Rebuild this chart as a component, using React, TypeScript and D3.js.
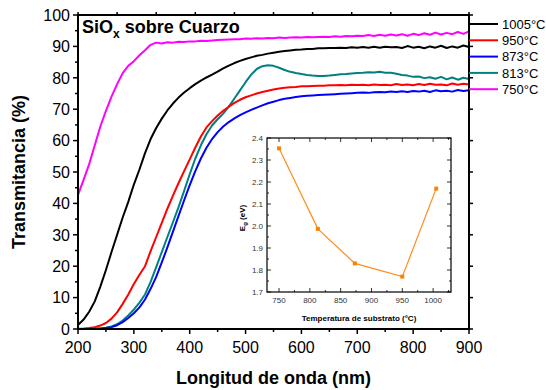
import React from "react";
import * as d3 from "d3";

const wavelengths = d3.range(200, 901, 10);

const t750 = [
  42.7, 47.5, 52.5, 58.5, 64.5, 69.5, 74.0, 78.0, 81.5, 83.8,
  85.3, 87.2, 88.8, 90.5, 91.2, 90.9, 91.3, 91.2, 91.5, 91.4,
  91.6, 91.6, 91.8, 91.7, 91.9, 92.0, 92.1, 92.2, 92.3, 92.3,
  92.5, 92.4, 92.6, 92.5, 92.7, 92.6, 92.8, 92.7, 92.8, 92.9,
  92.8, 93.0, 92.9, 93.0, 93.1, 93.0, 93.2, 93.1, 93.3, 93.2,
  93.4, 93.3, 93.6, 93.3, 93.7, 93.4, 93.8, 93.5, 93.9, 93.4,
  94.0, 93.6, 94.2, 93.7, 94.4, 93.8, 94.3, 93.9, 94.6, 94.0,
  94.8,
];
const t1005 = [
  1.3, 3.0, 5.5, 8.8, 13.5, 18.8, 24.5, 30.0, 35.5, 40.5,
  46.0, 50.8, 56.0, 60.5, 64.0, 67.0, 69.6, 71.8, 73.7, 75.3,
  76.7, 78.0, 79.1, 80.1, 81.0, 82.0, 83.0, 83.9, 84.7, 85.4,
  86.0, 86.5, 87.0, 87.3, 87.7, 88.0, 88.3, 88.5, 88.7, 88.9,
  89.0, 89.2, 89.2, 89.4, 89.4, 89.5, 89.5, 89.6, 89.5, 89.7,
  89.6, 89.8, 89.6, 89.9, 89.6, 89.9, 89.7, 89.8, 89.5, 90.1,
  89.6, 89.9, 89.4, 90.0, 89.6, 90.2, 89.5, 90.0, 89.6, 90.3,
  89.8,
];
const t950 = [
  0.0, 0.1, 0.3, 0.6, 1.1, 1.9, 3.3, 5.3, 8.0, 11.0,
  14.3, 17.3, 20.0, 24.8, 29.3, 33.8, 38.3, 42.5, 46.5, 50.3,
  54.0, 57.8, 61.3, 64.2, 66.2, 68.0, 69.5, 70.8, 72.0, 73.0,
  73.8, 74.4, 75.0, 75.5, 75.9, 76.3, 76.6, 76.8, 77.0, 77.1,
  77.3, 77.3, 77.4, 77.5, 77.5, 77.6, 77.6, 77.7, 77.6, 77.8,
  77.7, 77.8, 77.6, 77.9, 77.7, 77.8, 77.6, 78.0, 77.7, 77.9,
  77.6, 78.0, 77.7, 78.1, 77.8, 77.9, 77.6, 78.2, 77.8, 78.1,
  77.9,
];
const t873 = [
  0.0, 0.0, 0.0, 0.1, 0.1, 0.3, 0.6, 1.2, 2.2, 3.5,
  5.0, 6.9, 9.4, 12.8, 16.6, 21.2, 26.0, 31.0, 36.0, 41.0,
  45.8, 50.3, 54.3, 57.7, 60.5, 62.7, 64.5, 65.9, 67.1, 68.1,
  69.0, 69.8, 70.5, 71.2, 71.9, 72.4, 72.9, 73.3, 73.6, 73.9,
  74.1, 74.3, 74.4, 74.5, 74.6, 74.7, 74.8, 74.9, 75.0, 75.1,
  75.2, 75.3, 75.2, 75.4, 75.5, 75.4, 75.6, 75.5, 75.7, 75.5,
  75.8, 75.6, 75.9, 75.5, 76.0, 75.7, 75.9, 75.6, 76.1, 75.8,
  76.0,
];
const t813 = [
  0.1, 0.1, 0.1, 0.1, 0.2, 0.4, 0.8, 1.5, 2.7, 4.3,
  6.2, 8.4, 11.0, 15.0, 19.7, 24.5, 29.3, 34.0, 38.8, 44.0,
  49.3, 54.3, 58.5, 62.0, 64.8, 66.8, 68.6, 70.8, 73.4, 76.0,
  78.6, 81.0, 82.8, 83.7, 84.0, 83.8, 83.2, 82.5, 81.9, 81.5,
  81.2, 80.9, 80.7, 80.6, 80.6, 80.7, 80.9, 81.1, 81.2, 81.4,
  81.5, 81.6, 81.8, 81.7, 81.9, 81.6, 81.6, 81.3, 80.9, 80.7,
  80.3, 80.4, 79.9, 80.2, 79.7, 80.3, 79.5, 80.1, 79.4, 80.0,
  79.6,
];

const seriesLabels = ["1005°C", "950°C", "873°C", "813°C", "750°C"];
const seriesColors = ["#000000", "#ff0000", "#0000ff", "#008080", "#ff00ff"];
const seriesValues = [t1005, t950, t873, t813, t750];

const insetTemps = [750, 813, 873, 950, 1005];
const insetEg = [2.353, 1.987, 1.83, 1.77, 2.17];

const xTicks = [200, 300, 400, 500, 600, 700, 800, 900];
const yTicks = [0, 10, 20, 30, 40, 50, 60, 70, 80, 90, 100];
const insetXTicks = [750, 800, 850, 900, 950, 1000];
const insetYTicks = [1.7, 1.8, 1.9, 2.0, 2.1, 2.2, 2.3, 2.4];

const FONT = "'Liberation Sans', Arial, Helvetica, sans-serif";

export default function App() {
  const L = 78, R = 469, T = 15, B = 329;
  const x = d3.scaleLinear().domain([200, 900]).range([L, R]);
  const y = d3.scaleLinear().domain([0, 100]).range([B, T]);
  const line = d3
    .line<number>()
    .x((_, i) => x(wavelengths[i]))
    .y((d) => y(d));

  const iL = 267, iR = 451, iT = 138, iB = 292;
  const ix = d3.scaleLinear().domain([730.5, 1029]).range([iL, iR]);
  const iy = d3.scaleLinear().domain([1.7, 2.4]).range([iB, iT]);
  const iline = d3
    .line<number>()
    .x((d) => ix(d))
    .y((_, i) => iy(insetEg[i]));

  const xMinor = d3.range(250, 900, 100);
  const yMinor = d3.range(5, 100, 10);
  const topTicks = d3.range(0, 11).map((k) => L + ((R - L) * k) / 10);
  const iyMinor = d3.range(1.75, 2.4, 0.1);
  const ixMinor = [775, 825, 875, 925, 975, 1025];

  return (
    <svg
      width={546}
      height={390}
      style={{ position: "absolute", left: 0, top: 0, background: "#fff" }}
      fontFamily={FONT}
    >
      <rect x={0} y={0} width={546} height={390} fill="#fff" />
      {/* curves */}
      <g fill="none" strokeWidth={2} strokeLinejoin="round">
        {seriesValues
          .map((vals, i) => ({ vals, i }))
          .reverse()
          .map(({ vals, i }) => (
            <path key={i} d={line(vals) || ""} stroke={seriesColors[i]} />
          ))}
      </g>

      {/* main axes frame */}
      <rect x={L} y={T} width={R - L} height={B - T} fill="none" stroke="#000" strokeWidth={2} />
      <g stroke="#000" strokeWidth={1.5}>
        {xTicks.map((v) => (
          <line key={"xt" + v} x1={x(v)} x2={x(v)} y1={B} y2={B + 5} />
        ))}
        {xMinor.map((v) => (
          <line key={"xm" + v} x1={x(v)} x2={x(v)} y1={B} y2={B + 3} />
        ))}
        {yTicks.map((v) => (
          <line key={"yt" + v} x1={L} x2={L - 5} y1={y(v)} y2={y(v)} />
        ))}
        {yMinor.map((v) => (
          <line key={"ym" + v} x1={L} x2={L - 3} y1={y(v)} y2={y(v)} />
        ))}
        {topTicks.map((px, k) => (
          <line key={"tt" + k} x1={px} x2={px} y1={T} y2={T - 3} />
        ))}
        {yTicks.map((v) => (
          <line key={"rt" + v} x1={R} x2={R + 4} y1={y(v)} y2={y(v)} />
        ))}
      </g>
      <g fontSize={16} fill="#000">
        {xTicks.map((v) => (
          <text key={"xl" + v} x={x(v)} y={353} textAnchor="middle">
            {v}
          </text>
        ))}
        {yTicks.map((v) => (
          <text key={"yl" + v} x={70} y={y(v)} dy="0.36em" textAnchor="end">
            {v}
          </text>
        ))}
      </g>
      <text x={(L + R) / 2} y={384} textAnchor="middle" fontSize={18} fontWeight="bold">
        Longitud de onda (nm)
      </text>
      <text
        transform={`translate(25,${(T + B) / 2}) rotate(-90)`}
        textAnchor="middle"
        fontSize={18}
        fontWeight="bold"
      >
        Transmitancia (%)
      </text>
      <text x={82} y={33} fontSize={18} fontWeight="bold">
        SiO
        <tspan dy={5} fontSize={12}>
          x
        </tspan>
        <tspan dy={-5}> sobre Cuarzo</tspan>
      </text>

      {/* legend */}
      {seriesLabels.map((lab, i) => {
        const ly = 24 + i * 16.3;
        return (
          <g key={lab}>
            <line x1={469} x2={498} y1={ly} y2={ly} stroke={seriesColors[i]} strokeWidth={2} />
            <text x={502} y={ly} dy="0.36em" fontSize={13}>
              {lab}
            </text>
          </g>
        );
      })}

      {/* inset */}
      <rect x={iL} y={iT} width={iR - iL} height={iB - iT} fill="#fff" stroke="#000" strokeWidth={1.2} />
      <g stroke="#000" strokeWidth={0.8}>
        {insetYTicks.map((v) => (
          <g key={"iyt" + v}>
            <line x1={iL} x2={iL + 4} y1={iy(v)} y2={iy(v)} />
            <line x1={iR} x2={iR - 4} y1={iy(v)} y2={iy(v)} />
          </g>
        ))}
        {iyMinor.map((v) => (
          <g key={"iym" + v}>
            <line x1={iL} x2={iL + 2} y1={iy(v)} y2={iy(v)} />
            <line x1={iR} x2={iR - 2} y1={iy(v)} y2={iy(v)} />
          </g>
        ))}
        {insetXTicks.map((v) => (
          <g key={"ixt" + v}>
            <line x1={ix(v)} x2={ix(v)} y1={iB} y2={iB - 4} />
            <line x1={ix(v)} x2={ix(v)} y1={iT} y2={iT + 4} />
          </g>
        ))}
        {ixMinor.map((v) => (
          <g key={"ixm" + v}>
            <line x1={ix(v)} x2={ix(v)} y1={iB} y2={iB - 2} />
            <line x1={ix(v)} x2={ix(v)} y1={iT} y2={iT + 2} />
          </g>
        ))}
      </g>
      <g fontSize={8} fill="#333">
        {insetYTicks.map((v) => (
          <text key={"iyl" + v} x={263} y={iy(v)} dy="0.35em" textAnchor="end">
            {v.toFixed(1)}
          </text>
        ))}
        {insetXTicks.map((v) => (
          <text key={"ixl" + v} x={ix(v)} y={303} textAnchor="middle">
            {v}
          </text>
        ))}
      </g>
      <text x={(iL + iR) / 2} y={321} textAnchor="middle" fontSize={8} fontWeight="bold">
        Temperatura de substrato (°C)
      </text>
      <text
        transform={`translate(245,${218}) rotate(-90)`}
        textAnchor="middle"
        fontSize={8}
        fontWeight="bold"
      >
        E
        <tspan dy={2} fontSize={6}>
          g
        </tspan>
        <tspan dy={-2}> (eV)</tspan>
      </text>
      <path d={iline(insetTemps) || ""} fill="none" stroke="#ff8c1a" strokeWidth={1.2} />
      {insetTemps.map((t, i) => (
        <rect key={"m" + t} x={ix(t) - 2} y={iy(insetEg[i]) - 2} width={4} height={4} fill="#ff8000" />
      ))}
    </svg>
  );
}
